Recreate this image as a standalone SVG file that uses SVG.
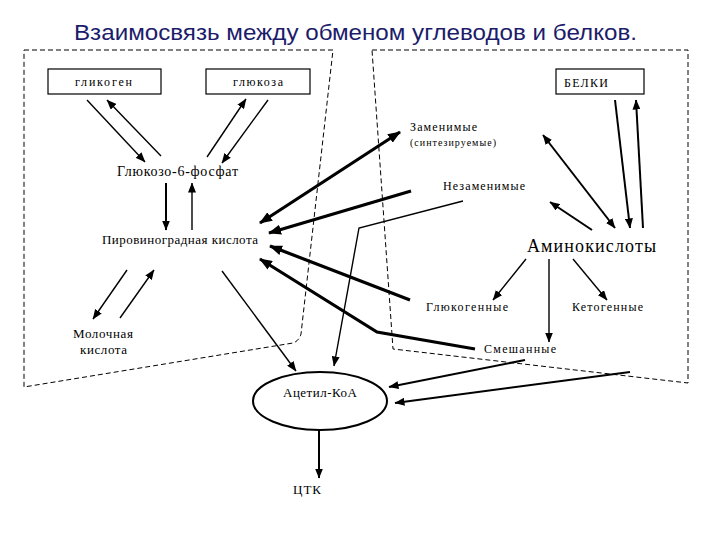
<svg xmlns="http://www.w3.org/2000/svg" width="720" height="540" viewBox="0 0 720 540">
<style>
.box{fill:#fff;stroke:#000;stroke-width:1.2}
.dash{fill:none;stroke:#000;stroke-width:1;stroke-dasharray:5 3}
.th{fill:none;stroke:#000;stroke-width:1.4}
.md{fill:none;stroke:#000;stroke-width:2}
.tk{fill:none;stroke:#000;stroke-width:3.2}
</style>
<defs>
<marker id="a" markerUnits="userSpaceOnUse" markerWidth="10" markerHeight="8" refX="9.5" refY="4" orient="auto-start-reverse"><path d="M0,0 L10,4 L0,8 z" fill="#000"/></marker>
<marker id="b" markerUnits="userSpaceOnUse" markerWidth="13" markerHeight="10" refX="12" refY="5" orient="auto-start-reverse"><path d="M0,0 L13,5 L0,10 z" fill="#000"/></marker>
</defs>
<rect width="720" height="540" fill="#fff"/>
<text x="74" y="40" font-family="Liberation Sans" font-size="22" fill="#1c1c6b" textLength="563" lengthAdjust="spacingAndGlyphs">Взаимосвязь между обменом углеводов и белков.</text>
<g id="regions">
<path class="dash" d="M24,50 H333 L301,334 Q299,341 293,343 L24,387 Z"/>
<path class="dash" d="M372,50 H688 V383 L393,349 Z"/>
</g>
<g id="connectors">
<line class="th" x1="87" y1="100" x2="145" y2="162" marker-end="url(#a)"/>
<line class="th" x1="161" y1="156" x2="107" y2="100" marker-end="url(#a)"/>
<line class="th" x1="207" y1="157" x2="246" y2="99" marker-end="url(#a)"/>
<line class="th" x1="268" y1="100" x2="222" y2="163" marker-end="url(#a)"/>
<line class="md" x1="166" y1="183" x2="166" y2="230" marker-end="url(#a)"/>
<line class="th" x1="192" y1="230" x2="192" y2="183" marker-end="url(#a)"/>
<line class="th" x1="127" y1="270" x2="93" y2="319" marker-end="url(#a)"/>
<line class="th" x1="120" y1="318" x2="154" y2="270" marker-end="url(#a)"/>
<line class="th" x1="222" y1="271" x2="296" y2="371" marker-end="url(#a)"/>
<line class="tk" x1="400" y1="132" x2="260" y2="223" marker-start="url(#b)" marker-end="url(#b)"/>
<line class="tk" x1="411" y1="191" x2="269" y2="233" marker-end="url(#b)"/>
<polyline class="th" points="463,201 359,228 334,366" marker-end="url(#a)"/>
<line class="tk" x1="410" y1="300" x2="270" y2="246" marker-end="url(#b)"/>
<polyline class="tk" points="475,349 377,332 260,259" marker-end="url(#b)"/>
<line class="md" x1="525" y1="360" x2="389" y2="387" marker-end="url(#a)"/>
<line class="md" x1="630" y1="372" x2="395" y2="403" marker-end="url(#a)"/>
<line class="th" x1="526" y1="259" x2="493" y2="300" marker-end="url(#a)"/>
<line class="th" x1="549" y1="259" x2="549" y2="342" marker-end="url(#a)"/>
<line class="th" x1="573" y1="259" x2="607" y2="300" marker-end="url(#a)"/>
<line class="md" x1="543" y1="135" x2="615" y2="228" marker-start="url(#a)" marker-end="url(#a)"/>
<line class="md" x1="592" y1="230" x2="550" y2="202" marker-end="url(#a)"/>
<line class="md" x1="615" y1="100" x2="630" y2="228" marker-end="url(#a)"/>
<line class="md" x1="643" y1="228" x2="636" y2="100" marker-end="url(#a)"/>
<line class="md" x1="319" y1="430" x2="319" y2="478" marker-end="url(#a)"/>
</g>
<g id="glycogen"><rect class="box" x="48" y="69" width="113" height="25"/><text font-family="Liberation Serif" font-size="12" x="75" y="86" textLength="57" lengthAdjust="spacing">гликоген</text></g>
<g id="glucose"><rect class="box" x="206" y="69" width="104" height="25"/><text font-family="Liberation Serif" font-size="12" x="233" y="86" textLength="50" lengthAdjust="spacing">глюкоза</text></g>
<g id="proteins"><rect class="box" x="556" y="69" width="88" height="25"/><text font-family="Liberation Serif" font-size="12" x="564" y="87" textLength="44" lengthAdjust="spacing">БЕЛКИ</text></g>
<g id="g6p"><text font-family="Liberation Serif" font-size="14" x="117" y="176" textLength="121" lengthAdjust="spacing">Глюкозо-6-фосфат</text></g>
<g id="pyruvate"><text font-family="Liberation Serif" font-size="13" x="102" y="244" textLength="156" lengthAdjust="spacing">Пировиноградная кислота</text></g>
<g id="lactate"><text font-family="Liberation Serif" font-size="13" x="73" y="338" textLength="60" lengthAdjust="spacing">Молочная</text><text font-family="Liberation Serif" font-size="13" x="80" y="354" textLength="47" lengthAdjust="spacing">кислота</text></g>
<g id="acetylcoa"><ellipse cx="320" cy="401" rx="67" ry="29" fill="#fff" stroke="#000" stroke-width="2"/><text font-family="Liberation Serif" font-size="13" x="283" y="397" textLength="74" lengthAdjust="spacing">Ацетил-КоА</text></g>
<g id="tca"><text font-family="Liberation Serif" font-size="13" x="293" y="494" textLength="28" lengthAdjust="spacing">ЦТК</text></g>
<g id="replaceable"><text font-family="Liberation Serif" font-size="12" x="410" y="131" textLength="67" lengthAdjust="spacing">Заменимые</text><text font-family="Liberation Serif" font-size="10" x="410" y="146" textLength="86" lengthAdjust="spacing">(синтезируемые)</text></g>
<g id="essential"><text font-family="Liberation Serif" font-size="12" x="443" y="190" textLength="82" lengthAdjust="spacing">Незаменимые</text></g>
<g id="aminoacids"><text font-family="Liberation Serif" font-size="18" x="527" y="252" textLength="129" lengthAdjust="spacing">Аминокислоты</text></g>
<g id="glucogenic"><text font-family="Liberation Serif" font-size="12" x="426" y="311" textLength="82" lengthAdjust="spacing">Глюкогенные</text></g>
<g id="ketogenic"><text font-family="Liberation Serif" font-size="12" x="572" y="311" textLength="71" lengthAdjust="spacing">Кетогенные</text></g>
<g id="mixed"><text font-family="Liberation Serif" font-size="12" x="484" y="353" textLength="72" lengthAdjust="spacing">Смешанные</text></g>
</svg>
